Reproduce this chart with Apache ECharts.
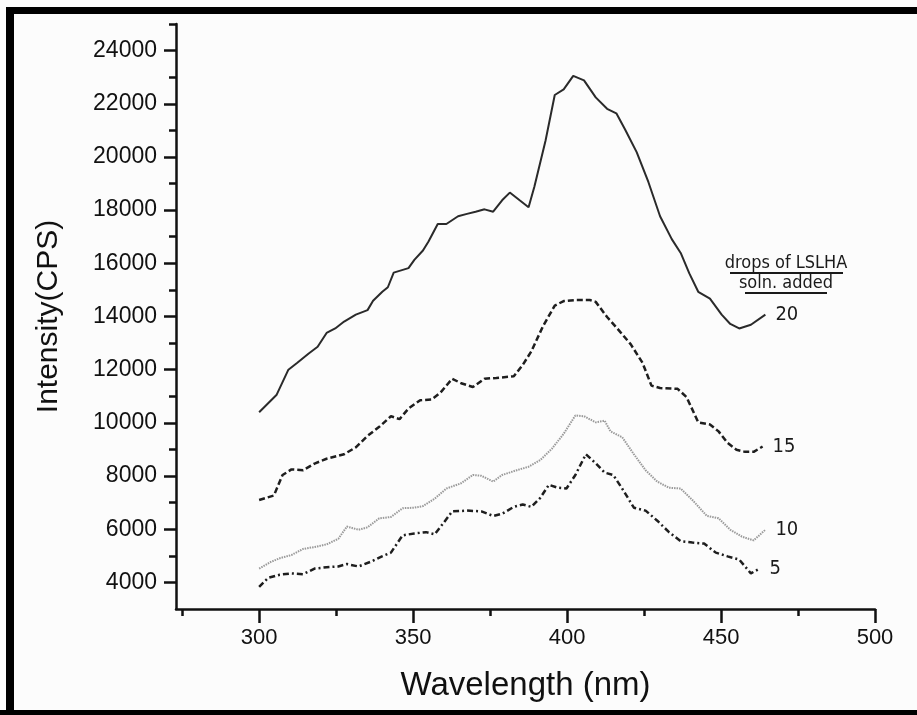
<!DOCTYPE html>
<html>
<head>
<meta charset="utf-8">
<script src="https://cdn.jsdelivr.net/npm/echarts@6/dist/echarts.min.js"></script>
<style>
html,body{margin:0;padding:0;background:#fcfcfc;}
#c{width:917px;height:715px;}
</style>
</head>
<body>
<div id="c"></div>
<script>
// ---- data ----
const xLabelTicks = [300, 350, 400, 450, 500];
const xMinorTicks = [275, 325, 375, 425, 475];
const yLabelTicks = [4000, 6000, 8000, 10000, 12000, 14000, 16000, 18000, 20000, 22000, 24000];
const yMinorTicks = [5000, 7000, 9000, 11000, 13000, 15000, 17000, 19000, 21000, 23000, 25000];

const wl20 = [300,305.7,309.5,312.4,316,319,321.9,324.7,327.6,331.4,335.2,337,340,341.8,343.7,348.5,350.4,353.2,355,358,360.8,364.6,367.5,370.3,373.2,376,378.9,381.4,384.6,387.5,389.4,393,396,398.9,402,405.5,409.3,413,416,418.8,422.6,426.4,430.2,434,436.9,439.7,442.6,446.4,450.2,453,455.9,459.7,464.4];
const int20 = [10400,11060,12000,12260,12600,12860,13380,13550,13810,14070,14240,14590,14930,15100,15650,15820,16130,16480,16820,17480,17480,17770,17860,17940,18030,17940,18370,18660,18370,18110,18890,20610,22330,22540,23050,22880,22240,21810,21640,21040,20180,19060,17770,16910,16390,15620,14930,14670,14070,13720,13550,13690,14070];

const wl15 = [300,304.8,307.6,310.5,314.3,318,321.9,327.6,331.4,335.2,339,342.8,345.6,348.5,352.3,356,358.9,362.7,365.6,369.4,373.2,377,382.7,385.6,388.4,392.2,396,398.9,402.7,407.4,409.3,413,416.9,420.7,424.5,427.4,430.2,435.9,438.8,442.6,446.4,449.2,452.1,455,457.8,460.6,463.5];
const int15 = [7100,7270,8040,8250,8220,8470,8650,8820,9080,9510,9850,10250,10140,10540,10850,10880,11140,11660,11490,11350,11660,11690,11750,12180,12690,13640,14410,14580,14620,14620,14550,13980,13470,12950,12260,11400,11310,11280,10970,10020,9940,9680,9250,8990,8910,8910,9110];

const wl10 = [300,303.8,306.7,310.5,314.3,318,321.9,325.7,328.5,332.3,335.2,339,342.8,346.6,350.4,353.2,357,360.8,365.6,369.4,372.2,376,378.9,383.7,387.5,391.3,395.1,398.9,402.7,405.5,409.3,412.2,414.1,417.9,421.7,425.5,429.3,433.1,436.9,440.7,445.4,449.2,453,456.8,460.6,464.4];
const int10 = [4520,4770,4910,5030,5260,5330,5430,5640,6100,5980,6070,6410,6460,6790,6810,6870,7150,7530,7730,8040,8010,7790,8040,8220,8350,8600,9030,9590,10280,10250,10020,10080,9680,9460,8820,8220,7790,7560,7530,7100,6500,6410,5980,5720,5580,5980];

const wl5 = [300,302.9,306.7,310.5,314.3,318,321.9,325.7,328.5,332.3,336.1,339.9,342.8,346.6,350.4,354.2,357,359.9,362.7,367.5,372.2,376,378.9,382.7,385.6,388.4,391.3,394.1,397,399.8,402.7,406.1,409.3,412.2,415,417.9,421.7,425.5,429.3,433.1,436.9,440.7,444.5,448.3,452.1,455.9,459.7,462.5];
const int5 = [3830,4170,4290,4340,4310,4520,4570,4600,4690,4600,4770,4980,5120,5770,5840,5890,5810,6240,6670,6700,6670,6500,6580,6840,6930,6840,7180,7670,7560,7530,8040,8820,8480,8130,8040,7530,6810,6700,6320,5890,5550,5500,5460,5120,4980,4860,4340,4520];

const seriesNames = ['20', '15', '10', '5'];
const headerLines = ['drops of LSLHA', 'soln. added'];

// ---- chart ----
const zip = (a, b) => a.map((x, i) => [x, b[i]]);
const narrow = '"Liberation Sans Narrow","DejaVu Sans Condensed","Roboto Condensed",sans-serif';
const labelFont = '"Liberation Sans",Arial,sans-serif';
const plain = v => String(v);

function mk(name, wl, it, style) {
  return {
    type: 'line', name: name, data: zip(wl, it), symbol: 'none', animation: false,
    xAxisIndex: 0, yAxisIndex: 0,
    lineStyle: style,
    endLabel: { show: true, formatter: name, distance: 10, fontSize: 20, fontFamily: narrow, color: '#1a1a1a' }
  };
}

const chart = echarts.init(document.getElementById('c'), null, { renderer: 'canvas' });
const axisLineStyle = { color: '#111', width: 2.5 };
chart.setOption({
  backgroundColor: '#fcfcfc',
  animation: false,
  grid: { left: 176, right: 42, top: 24, bottom: 106 },
  xAxis: [{
    type: 'value', min: 273, max: 500,
    name: 'Wavelength (nm)', nameLocation: 'middle', nameGap: 60,
    nameTextStyle: { fontSize: 33, fontFamily: labelFont, color: '#111' },
    axisLine: { show: true, onZero: false, lineStyle: axisLineStyle },
    axisTick: { show: true, length: 14, lineStyle: { color: '#111', width: 2.5 }, customValues: xLabelTicks },
    axisLabel: { fontSize: 22, fontFamily: labelFont, color: '#111', margin: 18, customValues: xLabelTicks, formatter: plain },
    splitLine: { show: false }
  }, {
    type: 'value', min: 273, max: 500, position: 'bottom',
    axisLine: { show: false },
    axisTick: { show: true, length: 7, lineStyle: { color: '#111', width: 2.5 }, customValues: xMinorTicks },
    axisLabel: { show: false },
    splitLine: { show: false }
  }],
  yAxis: [{
    type: 'value', min: 3000, max: 25000,
    name: 'Intensity(CPS)', nameLocation: 'middle', nameGap: 112, nameRotate: 90,
    nameTextStyle: { fontSize: 30, fontFamily: labelFont, color: '#111' },
    axisLine: { show: true, onZero: false, lineStyle: axisLineStyle },
    axisTick: { show: true, length: 12, lineStyle: { color: '#111', width: 2.5 }, customValues: yLabelTicks },
    axisLabel: { fontSize: 23, fontFamily: labelFont, color: '#111', margin: 19, customValues: yLabelTicks, formatter: plain },
    splitLine: { show: false }
  }, {
    type: 'value', min: 3000, max: 25000, position: 'left',
    axisLine: { show: false },
    axisTick: { show: true, length: 7, lineStyle: { color: '#111', width: 2.5 }, customValues: yMinorTicks },
    axisLabel: { show: false },
    splitLine: { show: false }
  }],
  series: [
    mk(seriesNames[0], wl20, int20, { color: '#2a2a2a', width: 2, type: 'solid' }),
    mk(seriesNames[1], wl15, int15, { color: '#1e1e1e', width: 2.5, type: [6, 3] }),
    mk(seriesNames[2], wl10, int10, { color: '#9a9a9a', width: 2, type: [1.5, 1] }),
    mk(seriesNames[3], wl5, int5, { color: '#1e1e1e', width: 2.5, type: [6, 3, 2, 3] })
  ],
  graphic: [
    { type: 'rect', shape: { x: 6, y: 7, width: 911, height: 7 }, style: { fill: '#000' }, silent: true },
    { type: 'rect', shape: { x: 6, y: 7, width: 8, height: 708 }, style: { fill: '#000' }, silent: true },
    { type: 'rect', shape: { x: 0, y: 710, width: 917, height: 5 }, style: { fill: '#000' }, silent: true },
    { type: 'text', x: 786, y: 263, style: { text: headerLines[0], fontSize: 18, fontFamily: narrow, fill: '#1a1a1a', align: 'center', verticalAlign: 'middle' } },
    { type: 'line', shape: { x1: 730, y1: 273, x2: 843, y2: 273 }, style: { stroke: '#1a1a1a', lineWidth: 2 } },
    { type: 'text', x: 786, y: 283, style: { text: headerLines[1], fontSize: 18, fontFamily: narrow, fill: '#1a1a1a', align: 'center', verticalAlign: 'middle' } },
    { type: 'line', shape: { x1: 745, y1: 293, x2: 827, y2: 293 }, style: { stroke: '#1a1a1a', lineWidth: 2 } }
  ]
});
</script>
</body>
</html>
